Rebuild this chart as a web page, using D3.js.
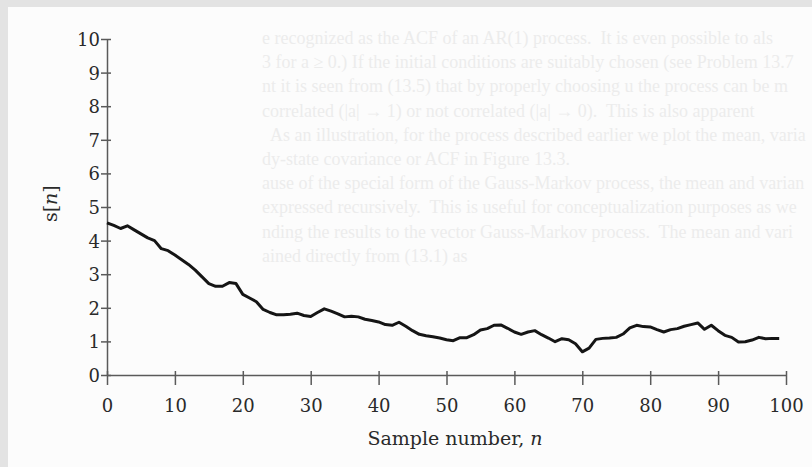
<!DOCTYPE html>
<html>
<head>
<meta charset="utf-8">
<script src="https://cdn.jsdelivr.net/npm/d3@7"></script>
<style>
  html, body { margin: 0; padding: 0; background: #e3e3e3; }
  #chart { position: absolute; left: 8px; top: 7px; }
</style>
</head>
<body>
<div id="chart"></div>
<script>
// sample index n and value s[n]
const sampleN = d3.range(0, 100);
const sampleS = [
  4.53, 4.45, 4.36, 4.44, 4.32, 4.20, 4.08, 4.00, 3.76, 3.70,
  3.57, 3.43, 3.29, 3.12, 2.92, 2.72, 2.64, 2.64, 2.75, 2.72,
  2.40, 2.29, 2.18, 1.95, 1.86, 1.79, 1.79, 1.81, 1.84, 1.77,
  1.74, 1.86, 1.97, 1.90, 1.82, 1.73, 1.75, 1.73, 1.66, 1.62,
  1.58, 1.50, 1.48, 1.57, 1.45, 1.32, 1.21, 1.17, 1.14, 1.10,
  1.05, 1.02, 1.11, 1.11, 1.20, 1.34, 1.38, 1.48, 1.49, 1.39,
  1.28, 1.21, 1.28, 1.32, 1.20, 1.10, 0.99, 1.08, 1.05, 0.93,
  0.69, 0.80, 1.06, 1.09, 1.10, 1.12, 1.22, 1.40, 1.48, 1.44,
  1.43, 1.35, 1.28, 1.35, 1.38, 1.45, 1.50, 1.55, 1.36, 1.48,
  1.32, 1.18, 1.12, 0.98, 0.99, 1.04, 1.12, 1.08, 1.09, 1.09
];
const xTicks = [0, 10, 20, 30, 40, 50, 60, 70, 80, 90, 100];
const yTicks = [0, 1, 2, 3, 4, 5, 6, 7, 8, 9, 10];
const xLabel = 'Sample number, ';

// faint text of the book page showing through behind the figure
const pageLines = [
  'e recognized as the ACF of an AR(1) process.  It is even possible to als',
  '3 for a \u2265 0.) If the initial conditions are suitably chosen (see Problem 13.7',
  'nt it is seen from (13.5) that by properly choosing u the process can be m',
  'correlated (|a| \u2192 1) or not correlated (|a| \u2192 0).  This is also apparent',
  '  As an illustration, for the process described earlier we plot the mean, varia',
  'dy-state covariance or ACF in Figure 13.3.',
  'ause of the special form of the Gauss-Markov process, the mean and variance',
  'expressed recursively.  This is useful for conceptualization purposes as we',
  'nding the results to the vector Gauss-Markov process.  The mean and vari',
  'ained directly from (13.1) as'
];

const width = 804;
const height = 460;
// page coordinates are offset by the grey scan border (8, 7)
const x = d3.scaleLinear().domain([0, 100]).range([99, 778]);
const y = d3.scaleLinear().domain([0, 10]).range([368, 32]);

const svg = d3.select('#chart')
  .append('svg')
  .attr('width', width)
  .attr('height', height)
  .style('display', 'block');

svg.append('rect')
  .attr('width', width)
  .attr('height', height)
  .attr('fill', '#fcfcfc');

// the page edge cuts these lines, so keep only what fits
const ghostLeft = 254;
const ghostMax = width - ghostLeft - 4;
svg.append('g')
  .selectAll('text')
  .data(pageLines)
  .enter()
  .append('text')
  .attr('x', ghostLeft)
  .attr('y', (d, i) => 37 + i * 24.2)
  .attr('font-family', '"Liberation Serif", serif')
  .attr('font-size', 18)
  .attr('fill', '#ececec')
  .style('white-space', 'pre')
  .text(d => d)
  .each(function (d) {
    let s = d;
    while (s.length > 1 && this.getComputedTextLength() > ghostMax) {
      s = s.slice(0, -1);
      this.textContent = s;
    }
  });

const axisColor = '#5a5a5a';
const textColor = '#2a2a2a';
const fontFamily = '"DejaVu Serif", serif';

// x axis
const xAxis = svg.append('g')
  .attr('transform', `translate(0,${y(0)})`)
  .call(d3.axisBottom(x).tickValues(xTicks).tickSize(0).tickFormat(''));
xAxis.select('.domain').attr('stroke', axisColor).attr('stroke-width', 1.5);
xAxis.selectAll('.tick line').remove();
xAxis.selectAll('.tick text').remove();
xAxis.selectAll('.tick')
  .append('line')
  .attr('y1', -4)
  .attr('y2', 10)
  .attr('stroke', axisColor)
  .attr('stroke-width', 1.5);
xAxis.selectAll('.tick')
  .append('text')
  .attr('y', 37)
  .attr('text-anchor', 'middle')
  .attr('font-family', fontFamily)
  .attr('font-size', 18)
  .attr('fill', textColor)
  .text(d => d);

// y axis
const yAxis = svg.append('g')
  .attr('transform', `translate(${x(0)},0)`)
  .call(d3.axisLeft(y).tickValues(yTicks).tickSize(0).tickFormat(''));
yAxis.select('.domain').attr('stroke', axisColor).attr('stroke-width', 1.5);
yAxis.selectAll('.tick line').remove();
yAxis.selectAll('.tick text').remove();
yAxis.selectAll('.tick')
  .append('line')
  .attr('x1', -6)
  .attr('x2', 4)
  .attr('stroke', axisColor)
  .attr('stroke-width', 1.5);
yAxis.selectAll('.tick')
  .append('text')
  .attr('x', -7)
  .attr('dy', '0.36em')
  .attr('text-anchor', 'end')
  .attr('font-family', fontFamily)
  .attr('font-size', 18)
  .attr('fill', textColor)
  .text(d => d);

// the series
const line = d3.line()
  .x((d, i) => x(sampleN[i]))
  .y(d => y(d));

svg.append('path')
  .datum(sampleS)
  .attr('d', line)
  .attr('fill', 'none')
  .attr('stroke', '#151515')
  .attr('stroke-width', 3)
  .attr('stroke-linejoin', 'round');

// axis titles
const xTitle = svg.append('text')
  .attr('x', 447)
  .attr('y', 438)
  .attr('text-anchor', 'middle')
  .attr('font-family', fontFamily)
  .attr('font-size', 19)
  .attr('fill', textColor);
xTitle.append('tspan').text(xLabel);
xTitle.append('tspan').attr('font-style', 'italic').text('n');

const yTitle = svg.append('text')
  .attr('transform', `translate(49,${y(5.1)}) rotate(-90)`)
  .attr('text-anchor', 'middle')
  .attr('font-family', fontFamily)
  .attr('font-size', 19)
  .attr('fill', textColor);
yTitle.append('tspan').text('s[');
yTitle.append('tspan').attr('font-style', 'italic').text('n');
yTitle.append('tspan').text(']');
</script>
</body>
</html>
